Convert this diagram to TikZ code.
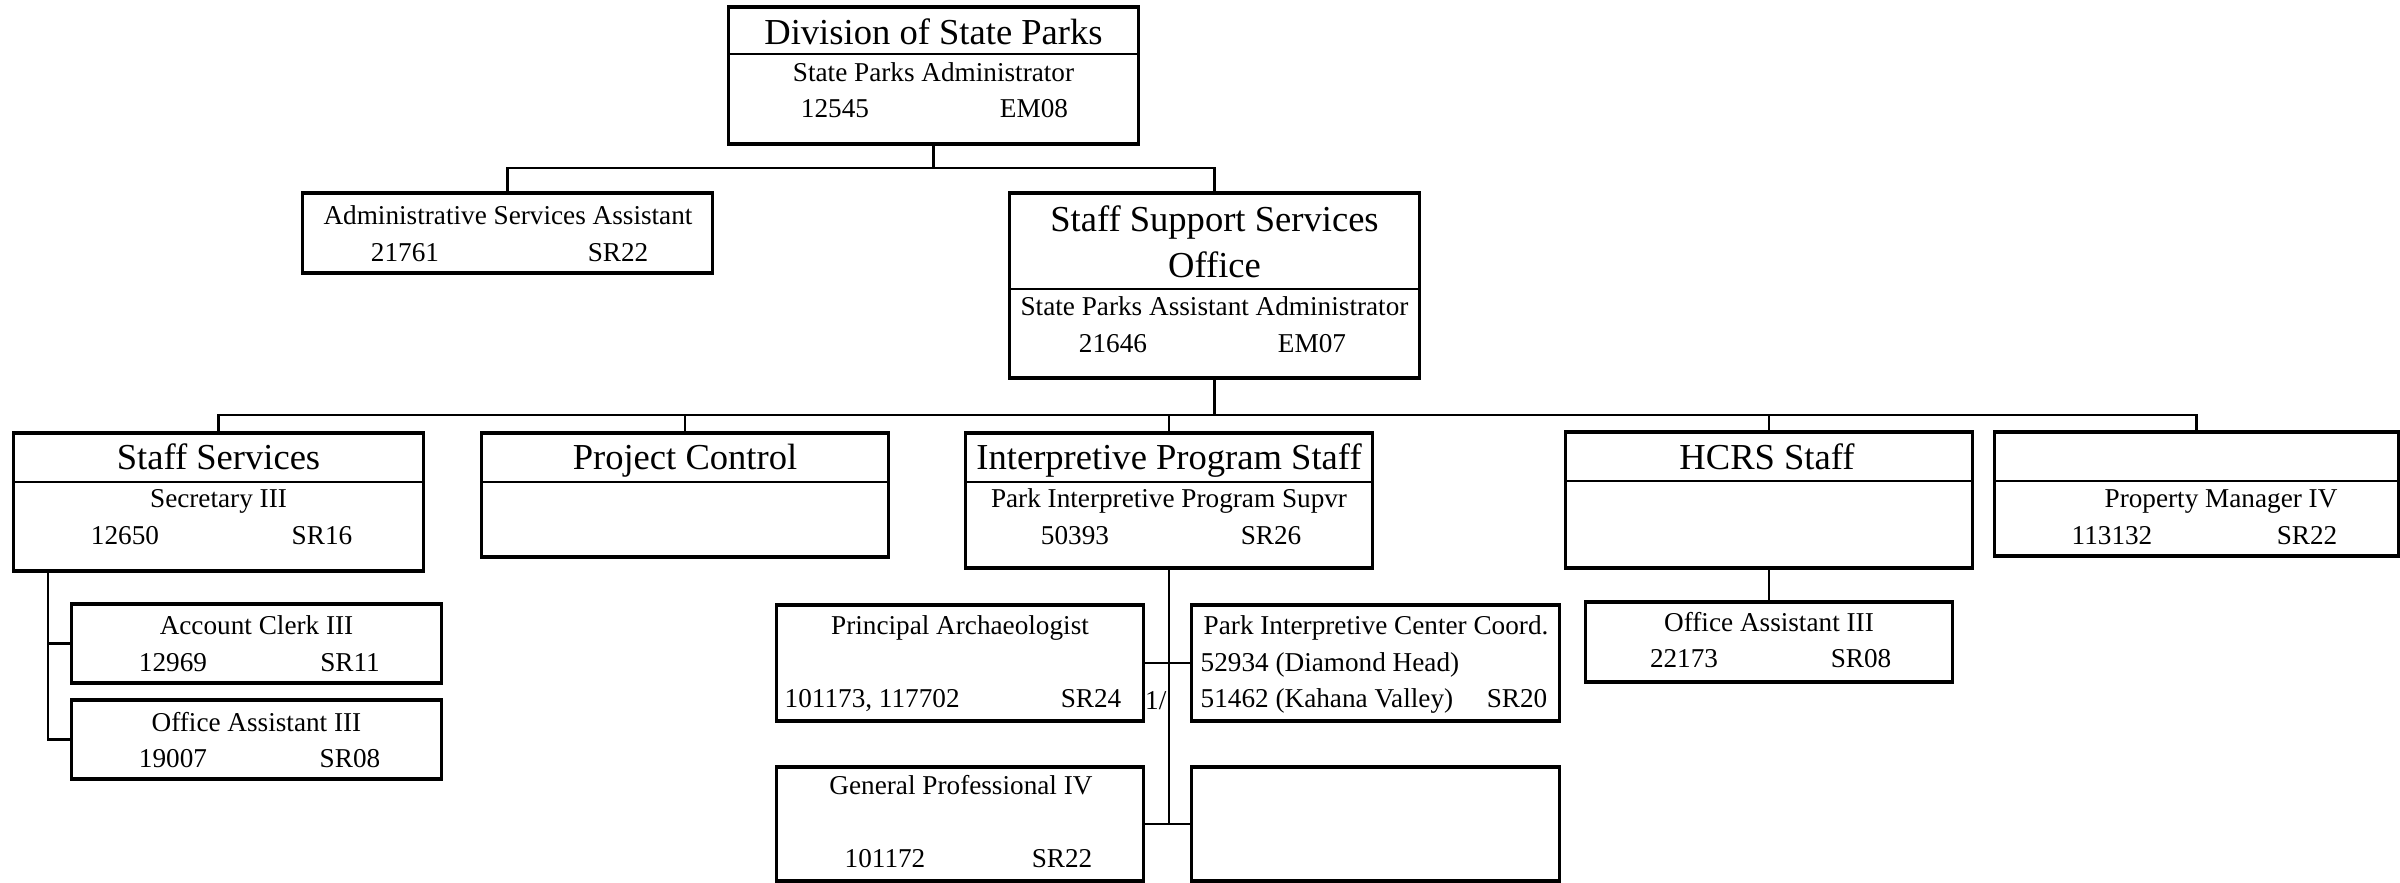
\documentclass[tikz,border=0pt]{standalone}
\usepackage{fontspec}
\setmainfont{Liberation Serif}
\usetikzlibrary{calc}

\begin{document}
\begin{tikzpicture}[x=0.01cm, y=-0.01cm,
    box/.style={draw, line width=0.9pt, inner sep=0pt, outer sep=0pt},
    divline/.style={line width=0.45pt},
    conn/.style={line width=0.7pt},
    ttl/.style={anchor=base, inner sep=0pt, font=\fontsize{10.4}{12}\selectfont},
    txt/.style={anchor=base, inner sep=0pt, font=\fontsize{7.74}{9}\selectfont}]
    \useasboundingbox (0,0) rectangle (2400,883);

    % =========================================================
    % LIVELLO 1: DIREZIONE
    % =========================================================
    \node[box, minimum width=4.09cm, minimum height=1.37cm] (top) at (933.5,75.5) {};
    \draw[divline] ($(top.north west)+(0,47)$) -- ($(top.north east)+(0,47)$);
    \node[ttl] (top-h) at (933.5,45) {Division of State Parks};
    \node[txt] (top-j) at (933.5,82) {State Parks Administrator};
    \node[txt] (top-n) at (835,118) {12545};
    \node[txt] (top-g) at (1034,118) {EM08};

    % =========================================================
    % LIVELLO 2: ASSISTENTE E UFFICIO DI SUPPORTO
    % =========================================================
    \node[box, minimum width=4.09cm, minimum height=0.80cm] (admin) at (507.5,233) {};
    \node[txt] (admin-j) at (508,225) {Administrative Services Assistant};
    \node[txt] (admin-n) at (405,262) {21761};
    \node[txt] (admin-g) at (618,262) {SR22};

    \node[box, minimum width=4.09cm, minimum height=1.85cm] (sso) at (1214.5,285.5) {};
    \draw[divline] ($(sso.north west)+(0,96)$) -- ($(sso.north east)+(0,96)$);
    \node[ttl] (sso-h1) at (1214.5,232) {Staff Support Services};
    \node[ttl] (sso-h2) at (1214.5,278) {Office};
    \node[txt] (sso-j) at (1214.5,316) {State Parks Assistant Administrator};
    \node[txt] (sso-n) at (1113,353) {21646};
    \node[txt] (sso-g) at (1312,353) {EM07};

    % =========================================================
    % LIVELLO 3: SEZIONI
    % =========================================================
    % Staff Services
    \node[box, minimum width=4.09cm, minimum height=1.38cm] (stsv) at (218.5,502) {};
    \draw[divline] ($(stsv.north west)+(0,49)$) -- ($(stsv.north east)+(0,49)$);
    \node[ttl] (stsv-h) at (218.5,470) {Staff Services};
    \node[txt] (stsv-j) at (218.5,508) {Secretary III};
    \node[txt] (stsv-n) at (125,545) {12650};
    \node[txt] (stsv-g) at (322,545) {SR16};

    % Project Control
    \node[box, minimum width=4.06cm, minimum height=1.24cm] (pc) at (685,495) {};
    \draw[divline] ($(pc.north west)+(0,49)$) -- ($(pc.north east)+(0,49)$);
    \node[ttl] (pc-h) at (685,470) {Project Control};

    % Interpretive Program Staff
    \node[box, minimum width=4.06cm, minimum height=1.35cm] (ips) at (1169,500.5) {};
    \draw[divline] ($(ips.north west)+(0,49)$) -- ($(ips.north east)+(0,49)$);
    \node[ttl] (ips-h) at (1169,470) {Interpretive Program Staff};
    \node[txt] (ips-j) at (1169,508) {Park Interpretive Program Supvr};
    \node[txt] (ips-n) at (1075,545) {50393};
    \node[txt] (ips-g) at (1271,545) {SR26};

    % HCRS Staff
    \node[box, minimum width=4.06cm, minimum height=1.36cm] (hcrs) at (1769,500) {};
    \draw[divline] ($(hcrs.north west)+(0,49)$) -- ($(hcrs.north east)+(0,49)$);
    \node[ttl] (hcrs-h) at (1767,470) {HCRS Staff};

    % Property Manager
    \node[box, minimum width=4.03cm, minimum height=1.24cm] (pm) at (2196.5,494) {};
    \draw[divline] ($(pm.north west)+(0,49)$) -- ($(pm.north east)+(0,49)$);
    \node[txt] (pm-j) at (2221,508) {Property Manager IV};
    \node[txt] (pm-n) at (2112,545) {113132};
    \node[txt] (pm-g) at (2307,545) {SR22};

    % =========================================================
    % LIVELLO 4: POSIZIONI
    % =========================================================
    \node[box, minimum width=3.69cm, minimum height=0.79cm] (acct) at (256.5,643.5) {};
    \node[txt] (acct-j) at (256.5,635) {Account Clerk III};
    \node[txt] (acct-n) at (173,672) {12969};
    \node[txt] (acct-g) at (350,672) {SR11};

    \node[box, minimum width=3.69cm, minimum height=0.79cm] (oa1) at (256.5,739.5) {};
    \node[txt] (oa1-j) at (256.5,732) {Office Assistant III};
    \node[txt] (oa1-n) at (173,768) {19007};
    \node[txt] (oa1-g) at (350,768) {SR08};

    \node[box, minimum width=3.66cm, minimum height=1.16cm] (pa) at (960,663) {};
    \node[txt] (pa-j) at (960,635) {Principal Archaeologist};
    \node[txt, anchor=base west] (pa-n) at (784,708) {101173, 117702};
    \node[txt] (pa-g) at (1091,708) {SR24};

    \node[box, minimum width=3.67cm, minimum height=1.16cm] (picc) at (1375.5,663) {};
    \node[txt, anchor=base west] (picc-j) at (1203,635) {Park Interpretive Center Coord.};
    \node[txt, anchor=base west] (picc-n1) at (1200,672) {52934 (Diamond Head)};
    \node[txt, anchor=base west] (picc-n2) at (1200,708) {51462 (Kahana Valley)};
    \node[txt] (picc-g) at (1517,708) {SR20};

    \node[box, minimum width=3.66cm, minimum height=1.14cm] (gp) at (960,824) {};
    \node[txt] (gp-j) at (961,795) {General Professional IV};
    \node[txt] (gp-n) at (885,868) {101172};
    \node[txt] (gp-g) at (1062,868) {SR22};

    \node[box, minimum width=3.67cm, minimum height=1.14cm] (blank) at (1375.5,824) {};

    \node[box, minimum width=3.66cm, minimum height=0.80cm] (oa2) at (1769,642) {};
    \node[txt] (oa2-j) at (1769,632) {Office Assistant III};
    \node[txt] (oa2-n) at (1684,668) {22173};
    \node[txt] (oa2-g) at (1861,668) {SR08};

    \node[txt, anchor=base east] (fn) at (1167,710) {1/};

    % =========================================================
    % COLLEGAMENTI
    % =========================================================
    \coordinate (j1) at ($(top.south)+(0,24)$);
    \coordinate (bus) at ($(sso.south)+(0,37)$);
    \coordinate (ssl) at ($(stsv.south west)+(34,0)$);

    \draw[conn] (top.south) -- (j1);
    \draw[conn] (admin.north) |- (j1) -| (sso.north);
    \draw[conn] (sso.south) -- (bus);
    \draw[conn] (stsv.north) |- (bus) -| (pm.north);
    \foreach \n in {pc, ips, hcrs}
        \draw[conn] (\n.north) -- (\n.north |- bus);

    \draw[conn] (ssl) |- (oa1.west);
    \draw[conn] (acct.west) -- (acct.west -| ssl);

    \draw[conn] (ips.south) -- (ips.south |- gp.east);
    \draw[conn] (pa.east) -- (picc.west);
    \draw[conn] (gp.east) -- (blank.west);

    \draw[conn] (hcrs.south) -- (oa2.north);
\end{tikzpicture}
\end{document}
